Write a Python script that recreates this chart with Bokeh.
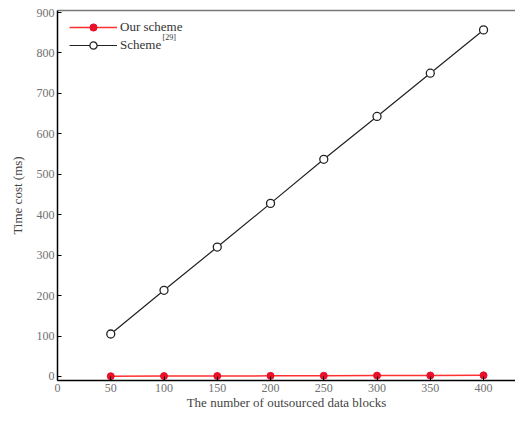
from bokeh.plotting import figure
from bokeh.models import Range1d, LinearAxis, Legend, LegendItem, FixedTicker, Label
from bokeh.embed import file_html
from bokeh.resources import INLINE

blocks = [50, 100, 150, 200, 250, 300, 350, 400]
our_scheme = [0.6, 0.9, 1.2, 1.5, 1.8, 2.1, 2.4, 2.7]
scheme_29 = [105, 213, 320, 428, 537, 643, 750, 857]
x_ticks = [0, 50, 100, 150, 200, 250, 300, 350, 400]
y_ticks = [0, 100, 200, 300, 400, 500, 600, 700, 800, 900]

FONT = "Liberation Serif"

p = figure(width=515, height=412, output_backend="svg", toolbar_location=None,
           x_range=Range1d(0, 430), y_range=Range1d(-10, 905),
           min_border_left=57, min_border_top=10, min_border_right=0, min_border_bottom=29)
p.outline_line_color = None
p.grid.visible = False
p.background_fill_color = "white"

for ax in [p.xaxis[0], p.yaxis[0]]:
    ax.axis_line_color = "black"
    ax.axis_line_width = 1.5
    ax.major_tick_in = 4
    ax.major_tick_out = 0
    ax.minor_tick_line_color = None
    ax.major_label_text_font = FONT
    ax.major_label_text_font_size = "12px"
    ax.major_label_text_color = "#707070"
    ax.axis_label_text_font = FONT
    ax.axis_label_text_font_size = "13px"
    ax.axis_label_text_font_style = "normal"
    ax.axis_label_text_color = "#444444"

p.xaxis.ticker = FixedTicker(ticks=x_ticks)
p.yaxis.ticker = FixedTicker(ticks=y_ticks)
p.xaxis.axis_label = "The number of outsourced data blocks"
p.yaxis.axis_label = "Time cost (ms)"
p.xaxis.axis_label_standoff = 0
p.yaxis.axis_label_standoff = 9
p.xaxis.major_label_standoff = 3
p.yaxis.major_label_standoff = 3

top = LinearAxis(major_tick_line_color=None, minor_tick_line_color=None,
                 major_label_text_font_size="0px", axis_line_color="#777777",
                 axis_line_width=1.5)
top.ticker = FixedTicker(ticks=[])
p.add_layout(top, "above")

l1 = p.line(blocks, our_scheme, line_color="#ff3030", line_width=1.5)
m1 = p.scatter(blocks, our_scheme, marker="circle", size=7, fill_color="#e8102a",
               line_color="#e8102a")
l2 = p.line(blocks, scheme_29, line_color="#222222", line_width=1.2)
m2 = p.scatter(blocks, scheme_29, marker="circle", size=8, fill_color="white",
               line_color="#222222", line_width=1.3)

legend = Legend(items=[LegendItem(label="Our scheme", renderers=[l1, m1]),
                       LegendItem(label="Scheme", renderers=[l2, m2])],
                location=(12, 326), border_line_color=None,
                background_fill_alpha=0, label_text_font=FONT,
                label_text_font_size="13px", label_text_color="#333333",
                glyph_width=48, glyph_height=18, label_height=18,
                spacing=0, padding=1, margin=0, label_standoff=3)
p.add_layout(legend)

p.add_layout(Label(x=105, y=339, x_units="screen", y_units="screen",
                   text="[29]", text_font=FONT, text_font_size="8px",
                   text_color="#333333"))

open("out.html", "w").write(file_html(p, INLINE))
